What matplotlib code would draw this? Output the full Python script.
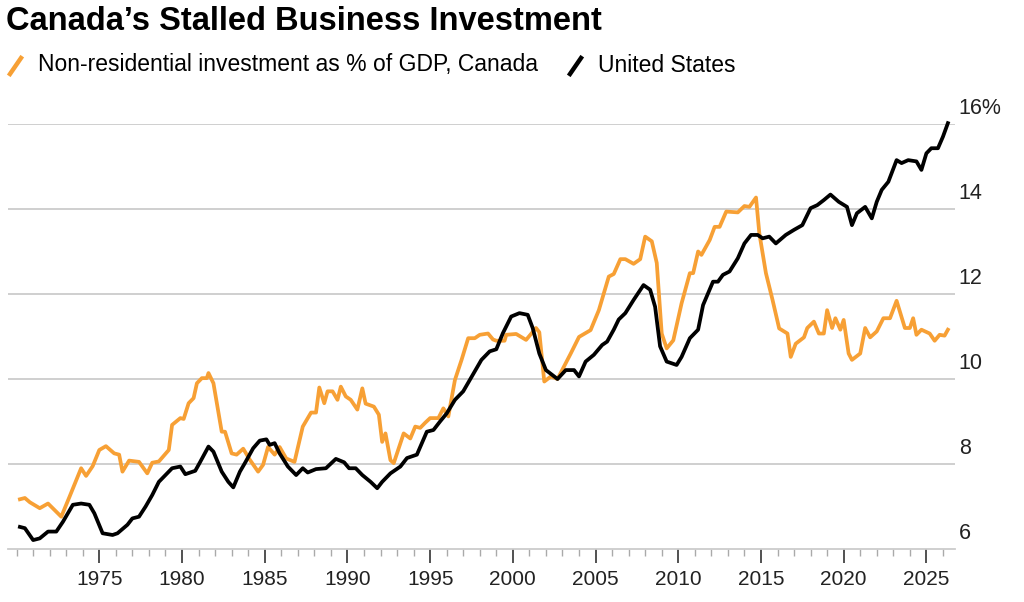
import matplotlib.pyplot as plt
import matplotlib.lines as mlines
from matplotlib.ticker import MultipleLocator

plt.rcParams['font.family'] = ['Liberation Sans', 'DejaVu Sans']

# Canada non-residential investment, % of GDP
ca_year = [1970.2, 1970.5, 1970.8, 1971.4, 1971.9, 1972.7, 1973.2, 1973.9, 1974.2, 1974.6,
           1975.0, 1975.4, 1975.9, 1976.2, 1976.4, 1976.8, 1977.4, 1977.9, 1978.2, 1978.6,
           1979.2, 1979.4, 1979.9, 1980.1, 1980.4, 1980.7, 1980.9, 1981.2, 1981.5, 1981.6,
           1981.9, 1982.4, 1982.6, 1983.0, 1983.3, 1983.7, 1984.1, 1984.6, 1984.9, 1985.2,
           1985.6, 1985.9, 1986.3, 1986.8, 1987.3, 1987.8, 1988.1, 1988.3, 1988.6, 1988.8,
           1989.1, 1989.4, 1989.6, 1989.9, 1990.2, 1990.6, 1990.9, 1991.1, 1991.6, 1991.9,
           1992.1, 1992.3, 1992.6, 1992.8, 1993.4, 1993.8, 1994.1, 1994.4, 1994.7, 1995.0,
           1995.5, 1995.8, 1996.1, 1996.5, 1996.9, 1997.3, 1997.7, 1998.0, 1998.5, 1998.8,
           1999.0, 1999.5, 1999.6, 2000.2, 2000.8, 2001.4, 2001.6, 2001.9, 2002.3, 2002.7,
           2003.5, 2004.0, 2004.7, 2005.2, 2005.8, 2006.1, 2006.5, 2006.8, 2007.3, 2007.7,
           2008.0, 2008.4, 2008.7, 2009.0, 2009.3, 2009.7, 2010.2, 2010.7, 2010.9, 2011.2,
           2011.4, 2011.9, 2012.2, 2012.5, 2012.9, 2013.6, 2014.0, 2014.3, 2014.7, 2014.9,
           2015.3, 2015.7, 2016.1, 2016.6, 2016.8, 2017.1, 2017.6, 2017.8, 2018.2, 2018.5,
           2018.8, 2019.0, 2019.3, 2019.5, 2019.8, 2020.0, 2020.3, 2020.5, 2021.0, 2021.3,
           2021.6, 2022.0, 2022.4, 2022.8, 2023.2, 2023.7, 2024.0, 2024.2, 2024.4, 2024.7,
           2025.2, 2025.5, 2025.8, 2026.1, 2026.3]
ca_val = [7.17, 7.2, 7.1, 6.96, 7.07, 6.76, 7.23, 7.9, 7.72, 7.95,
          8.33, 8.42, 8.25, 8.22, 7.82, 8.08, 8.05, 7.78, 8.03, 8.06,
          8.33, 8.92, 9.08, 9.06, 9.43, 9.55, 9.9, 10.02, 10.02, 10.14,
          9.9, 8.76, 8.76, 8.25, 8.22, 8.36, 8.1, 7.82, 7.98, 8.4,
          8.22, 8.4, 8.13, 8.05, 8.88, 9.21, 9.21, 9.8, 9.43, 9.71,
          9.71, 9.51, 9.82, 9.59, 9.51, 9.28, 9.78, 9.42, 9.35, 9.16,
          8.52, 8.72, 8.09, 8.02, 8.72, 8.6, 8.88, 8.85, 8.97, 9.08,
          9.08, 9.31, 9.12, 9.98, 10.45, 10.96, 10.96, 11.04, 11.07, 10.93,
          10.9, 10.9, 11.04, 11.06, 10.92, 11.2, 11.1, 9.94, 10.06, 10.0,
          10.6, 10.99, 11.15, 11.62, 12.41, 12.47, 12.82, 12.82, 12.71, 12.82,
          13.35, 13.24, 12.73, 11.07, 10.72, 10.91, 11.78, 12.49, 12.49, 13.0,
          12.92, 13.27, 13.58, 13.58, 13.94, 13.92, 14.07, 14.05, 14.27, 13.43,
          12.49, 11.86, 11.19, 11.07, 10.52, 10.83, 10.98, 11.2, 11.35, 11.07,
          11.07, 11.62, 11.2, 11.43, 11.16, 11.39, 10.6, 10.45, 10.6, 11.2,
          10.98, 11.12, 11.43, 11.43, 11.84, 11.2, 11.2, 11.43, 11.04, 11.16,
          11.07, 10.9, 11.04, 11.02, 11.16]

# United States
us_year = [1970.2, 1970.5, 1971.0, 1971.4, 1971.9, 1972.4, 1972.8, 1973.4, 1973.9, 1974.4,
           1974.7, 1975.2, 1975.8, 1976.1, 1976.7, 1977.0, 1977.4, 1977.8, 1978.2, 1978.6,
           1979.0, 1979.4, 1979.9, 1980.2, 1980.8, 1981.1, 1981.6, 1981.9, 1982.4, 1982.8,
           1983.1, 1983.5, 1983.8, 1984.3, 1984.7, 1985.1, 1985.3, 1985.6, 1985.9, 1986.4,
           1986.9, 1987.3, 1987.6, 1988.1, 1988.7, 1989.3, 1989.8, 1990.1, 1990.5, 1990.9,
           1991.4, 1991.8, 1992.1, 1992.6, 1993.2, 1993.6, 1994.2, 1994.8, 1995.2, 1995.6,
           1996.0, 1996.5, 1997.0, 1997.4, 1998.1, 1998.6, 1999.0, 1999.4, 1999.9, 2000.4,
           2000.9, 2001.2, 2001.6, 2002.0, 2002.7, 2003.2, 2003.7, 2004.0, 2004.4, 2004.9,
           2005.4, 2005.7, 2006.1, 2006.4, 2006.8, 2007.3, 2007.9, 2008.3, 2008.6, 2008.9,
           2009.3, 2009.9, 2010.2, 2010.7, 2011.2, 2011.5, 2012.1, 2012.4, 2012.7, 2013.1,
           2013.6, 2014.0, 2014.4, 2014.8, 2015.1, 2015.5, 2015.9, 2016.5, 2017.0, 2017.5,
           2018.0, 2018.4, 2018.8, 2019.2, 2019.7, 2020.2, 2020.5, 2020.8, 2021.3, 2021.7,
           2022.0, 2022.3, 2022.7, 2023.2, 2023.5, 2023.9, 2024.4, 2024.7, 2025.0, 2025.3,
           2025.7, 2026.0, 2026.3]
us_val = [6.52, 6.49, 6.21, 6.25, 6.41, 6.41, 6.64, 7.04, 7.07, 7.04,
          6.84, 6.37, 6.33, 6.37, 6.57, 6.72, 6.76, 7.0, 7.27, 7.58,
          7.74, 7.9, 7.94, 7.76, 7.84, 8.05, 8.41, 8.29, 7.82, 7.58,
          7.45, 7.82, 8.02, 8.37, 8.55, 8.58, 8.45, 8.49, 8.25, 7.94,
          7.74, 7.9, 7.8, 7.88, 7.9, 8.12, 8.04, 7.9, 7.9, 7.74,
          7.58, 7.43, 7.58, 7.78, 7.94, 8.14, 8.22, 8.76, 8.8, 9.0,
          9.19, 9.51, 9.71, 9.98, 10.45, 10.65, 10.7, 11.08, 11.47, 11.55,
          11.51, 11.2, 10.6, 10.21, 10.0, 10.21, 10.21, 10.06, 10.41, 10.57,
          10.8, 10.88, 11.16, 11.4, 11.55, 11.86, 12.21, 12.1, 11.7, 10.77,
          10.41, 10.33, 10.52, 10.96, 11.16, 11.74, 12.29, 12.29, 12.45, 12.53,
          12.84, 13.19, 13.39, 13.39, 13.31, 13.35, 13.19, 13.39, 13.51, 13.62,
          14.02, 14.09, 14.21, 14.34, 14.17, 14.05, 13.62, 13.9, 14.05, 13.78,
          14.17, 14.45, 14.64, 15.15, 15.08, 15.15, 15.12, 14.92, 15.31, 15.43,
          15.43, 15.7, 16.02]

y_ticks = [6, 8, 10, 12, 14, 16]
y_labels = ['6', '8', '10', '12', '14', '16%']
x_ticks = [1975, 1980, 1985, 1990, 1995, 2000, 2005, 2010, 2015, 2020, 2025]

orange = '#F7A035'
grid_c = '#CCCCCC'

fig = plt.figure(figsize=(10.24, 6.02), dpi=100)
ax = fig.add_axes([8 / 1024, 53 / 602, 947 / 1024, 425 / 602])

ax.plot(ca_year, ca_val, color=orange, lw=2.7, solid_joinstyle='round', clip_on=False, zorder=3)
ax.plot(us_year, us_val, color='black', lw=2.7, solid_joinstyle='round', clip_on=False, zorder=4)

ax.set_xlim(1969.48, 2026.73)
ax.set_ylim(6, 16)
for v in y_ticks[1:]:
    ax.axhline(v, color=grid_c, lw=1.3, zorder=1)
for v, lab in zip(y_ticks, y_labels):
    ax.text(1.004, v + 0.12, lab, transform=ax.get_yaxis_transform(), fontsize=15.5,
            ha='left', va='bottom', color='#222222')

for s in ['top', 'left', 'right']:
    ax.spines[s].set_visible(False)
ax.spines['bottom'].set_color(grid_c)
ax.spines['bottom'].set_linewidth(1.3)
ax.set_yticks([])
ax.set_xticks(x_ticks)
ax.set_xticklabels([str(x) for x in x_ticks], fontsize=15, color='#222222')
ax.xaxis.set_minor_locator(MultipleLocator(1))
ax.tick_params(axis='x', which='major', length=10, width=1.2, color='#333333', pad=5)
ax.tick_params(axis='x', which='minor', length=5, width=1, color='#aaaaaa')

fig.text(6 / 1024, 1 - 22 / 602, 'Canada\u2019s Stalled Business Investment', fontsize=23.5,
         fontweight='bold', ha='left', va='center')

# legend
fig.add_artist(mlines.Line2D([10 / 1024, 21 / 1024], [1 - 74 / 602, 1 - 58 / 602],
                             color=orange, lw=3.2, transform=fig.transFigure))
fig.text(38 / 1024, 1 - 65 / 602, 'Non-residential investment as % of GDP, Canada', fontsize=16.5,
         ha='left', va='center')
fig.add_artist(mlines.Line2D([570 / 1024, 581 / 1024], [1 - 74 / 602, 1 - 58 / 602],
                             color='black', lw=3.2, transform=fig.transFigure))
fig.text(598 / 1024, 1 - 65 / 602, 'United States', fontsize=16.5, ha='left', va='center')

fig.savefig('out.png', dpi=100)
